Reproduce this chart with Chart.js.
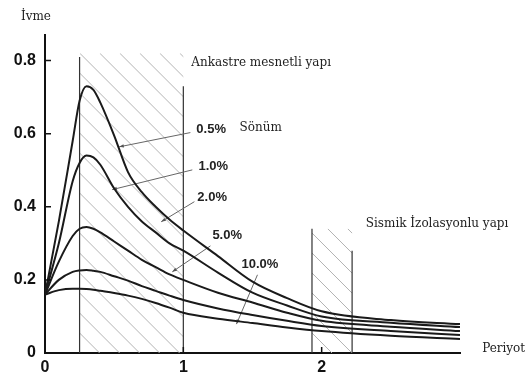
<!DOCTYPE html>
<html>
<head>
<meta charset="utf-8">
<script src="https://cdn.jsdelivr.net/npm/chart.js@4.4.0/dist/chart.umd.min.js"></script>
<style>
  html, body { margin: 0; padding: 0; background: #fff; }
</style>
</head>
<body>
<canvas id="myChart1" width="531" height="376"></canvas>
<script>
const periods = [0, 0.1, 0.2, 0.25, 0.3, 0.35, 0.4, 0.5, 0.6, 0.7, 0.8, 0.9, 1.0, 1.25, 1.5, 1.75, 2.0, 2.5, 3.0];

const damp05 = [0.16, 0.36, 0.58, 0.69, 0.73, 0.72, 0.685, 0.595, 0.495, 0.44, 0.40, 0.365, 0.335, 0.265, 0.195, 0.15, 0.114, 0.09, 0.079];
const damp10 = [0.16, 0.30, 0.47, 0.52, 0.54, 0.535, 0.515, 0.45, 0.40, 0.36, 0.33, 0.30, 0.28, 0.22, 0.165, 0.13, 0.10, 0.083, 0.071];
const damp20 = [0.16, 0.25, 0.32, 0.34, 0.345, 0.34, 0.33, 0.305, 0.28, 0.255, 0.235, 0.215, 0.20, 0.165, 0.138, 0.11, 0.088, 0.072, 0.06];
const damp50 = [0.16, 0.20, 0.222, 0.226, 0.227, 0.225, 0.222, 0.21, 0.198, 0.183, 0.17, 0.157, 0.145, 0.122, 0.104, 0.088, 0.074, 0.06, 0.049];
const damp100 = [0.16, 0.172, 0.176, 0.176, 0.175, 0.173, 0.17, 0.164, 0.157, 0.148, 0.137, 0.124, 0.11, 0.094, 0.082, 0.07, 0.06, 0.047, 0.038];

const dampLabels = ['0.5%', '1.0%', '2.0%', '5.0%', '10.0%'];
const xTicks = [0, 1, 2];
const yTicks = [0, 0.2, 0.4, 0.6, 0.8];

// period bands of the two building types
const fixedBand = [0.25, 1.0];
const isolatedBand = [1.93, 2.22];

const ctx = document.getElementById('myChart1').getContext('2d');

const serif = '"DejaVu Serif", "Liberation Serif", serif';
const sans = '"Liberation Sans", Arial, sans-serif';

function toPts(ys) {
  return periods.map((p, i) => ({ x: p, y: ys[i] }));
}

function hatchBox(c, left, right, top, bottom) {
  c.save();
  c.beginPath();
  c.rect(left, top, right - left, bottom - top);
  c.clip();
  c.strokeStyle = '#b4b4b4';
  c.lineWidth = 1;
  c.beginPath();
  const h = bottom - top;
  for (let x = left - h; x < right; x += 20) {
    c.moveTo(x, top);
    c.lineTo(x + h, bottom);
  }
  c.stroke();
  c.restore();
}

const extras = {
  id: 'extras',
  beforeDatasetsDraw(chart) {
    const c = chart.ctx;
    const xs = chart.scales.x, ys = chart.scales.y;
    const px = v => xs.getPixelForValue(v);
    const py = v => ys.getPixelForValue(v);

    hatchBox(c, px(fixedBand[0]), px(fixedBand[1]), py(0.82), py(0));
    hatchBox(c, px(isolatedBand[0]), px(isolatedBand[1]), py(0.34), py(0));

    c.save();
    c.strokeStyle = '#333';
    c.lineWidth = 1.2;
    c.beginPath();
    c.moveTo(px(fixedBand[0]), py(0)); c.lineTo(px(fixedBand[0]), py(0.81));
    c.moveTo(px(fixedBand[1]), py(0)); c.lineTo(px(fixedBand[1]), py(0.73));
    c.moveTo(px(isolatedBand[0]), py(0)); c.lineTo(px(isolatedBand[0]), py(0.34));
    c.moveTo(px(isolatedBand[1]), py(0)); c.lineTo(px(isolatedBand[1]), py(0.28));
    c.stroke();

    // leader lines from the damping labels, with small arrow heads
    const leaders = [
      [1.051, 0.603, 0.536, 0.564],
      [1.065, 0.501, 0.486, 0.447],
      [1.08, 0.414, 0.84, 0.359],
      [1.196, 0.293, 0.92, 0.222],
      [1.536, 0.214, 1.384, 0.079],
    ];
    c.strokeStyle = '#666';
    c.fillStyle = '#555';
    c.lineWidth = 1;
    leaders.forEach(l => {
      const x0 = px(l[0]), y0 = py(l[1]), x1 = px(l[2]), y1 = py(l[3]);
      c.beginPath();
      c.moveTo(x0, y0);
      c.lineTo(x1, y1);
      c.stroke();
      const a = Math.atan2(y1 - y0, x1 - x0);
      c.beginPath();
      c.moveTo(x1, y1);
      c.lineTo(x1 - 5 * Math.cos(a - 0.35), y1 - 5 * Math.sin(a - 0.35));
      c.lineTo(x1 - 5 * Math.cos(a + 0.35), y1 - 5 * Math.sin(a + 0.35));
      c.closePath();
      c.fill();
    });
    c.restore();
  },
  afterDraw(chart) {
    const c = chart.ctx;
    const xs = chart.scales.x, ys = chart.scales.y;
    const px = v => xs.getPixelForValue(v);
    const py = v => ys.getPixelForValue(v);
    const area = chart.chartArea;

    c.save();
    // inner tick marks
    c.strokeStyle = '#111';
    c.lineWidth = 1.5;
    c.beginPath();
    yTicks.slice(1).forEach(v => {
      c.moveTo(area.left, py(v)); c.lineTo(area.left + 6, py(v));
    });
    xTicks.slice(1).forEach(v => {
      c.moveTo(px(v), area.bottom); c.lineTo(px(v), area.bottom - 6);
    });
    c.stroke();

    c.fillStyle = '#222';
    c.textBaseline = 'middle';
    c.textAlign = 'left';
    c.font = '12px ' + serif;
    c.fillText('İvme', px(-0.174), py(0.92));
    c.fillText('Ankastre mesnetli yapı', px(1.058), py(0.795));
    c.fillText('Sönüm', px(1.406), py(0.616));
    c.fillText('Sismik İzolasyonlu yapı', px(2.319), py(0.353));
    c.fillText('Periyot', px(3.16), py(0.01));

    c.font = 'bold 13px ' + sans;
    const labelPos = [[1.094, 0.611], [1.109, 0.51], [1.101, 0.425], [1.21, 0.323], [1.42, 0.241]];
    dampLabels.forEach((t, i) => {
      c.fillText(t, px(labelPos[i][0]), py(labelPos[i][1]));
    });
    c.restore();
  }
};

const series = [damp05, damp10, damp20, damp50, damp100];

const data = {
  datasets: series.map((s, i) => ({
    label: dampLabels[i],
    data: toPts(s),
    borderColor: '#1a1a1a',
    borderWidth: 2,
    pointRadius: 0,
    fill: false,
    cubicInterpolationMode: 'monotone',
  })),
};

const config = {
  type: 'line',
  data: data,
  options: {
    responsive: false,
    animation: false,
    devicePixelRatio: 1,
    layout: { padding: { top: 35, right: 71, left: 0, bottom: 0 } },
    plugins: { legend: { display: false }, tooltip: { enabled: false } },
    scales: {
      x: {
        type: 'linear',
        min: 0,
        max: 3,
        grid: { display: false, drawTicks: false },
        border: { display: true, color: '#111', width: 2 },
        ticks: { color: '#111', padding: 5, font: { family: sans, weight: 'bold', size: 16 } },
        afterBuildTicks: s => { s.ticks = xTicks.map(v => ({ value: v })); },
        afterFit: s => { s.height = 23; },
      },
      y: {
        type: 'linear',
        min: 0,
        max: 0.87,
        grid: { display: false, drawTicks: false },
        border: { display: true, color: '#111', width: 2 },
        ticks: {
          color: '#111',
          padding: 9,
          font: { family: sans, weight: 'bold', size: 16 },
          callback: function (value) {
            return value === 0 ? '0' : value.toFixed(1);
          },
        },
        afterBuildTicks: s => { s.ticks = yTicks.map(v => ({ value: v })); },
        afterFit: s => { s.width = 45; },
      },
    },
  },
  plugins: [extras],
};

const myChart = new Chart(ctx, config);
</script>
</body>
</html>
